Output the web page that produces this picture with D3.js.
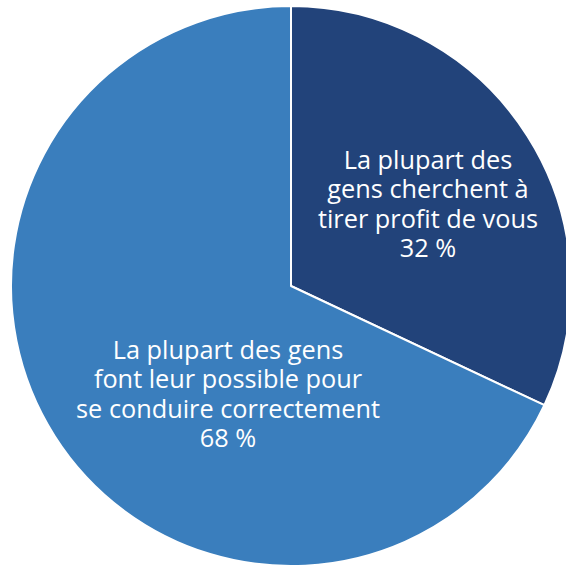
<!DOCTYPE html>
<html><head><meta charset="utf-8">
<script src="https://cdn.jsdelivr.net/npm/d3@7"></script>
<style>html,body{margin:0;padding:0;background:#fff;overflow:hidden}</style>
</head><body>
<svg id="c" width="566" height="566"></svg>
<script>
const categories = ["La plupart des gens cherchent à tirer profit de vous", "La plupart des gens font leur possible pour se conduire correctement"];
const values = [32, 68];
const labelLines = [
  ["La plupart des", "gens cherchent à", "tirer profit de vous", "32 %"],
  ["La plupart des gens", "font leur possible pour", "se conduire correctement", "68 %"]
];
const colors = ["#22437a", "#3a7ebd"];

const svg = d3.select("#c");
const cx = 291, cy = 286, R = 280;
const g = svg.append("g").attr("transform", `translate(${cx},${cy})`);
const pie = d3.pie().sort(null).value(d => d)(values);
const arc = d3.arc().innerRadius(0).outerRadius(R);
g.selectAll("path").data(pie).join("path")
  .attr("d", arc)
  .attr("fill", (d, i) => colors[i])
  .attr("stroke", "#fff").attr("stroke-width", 2).attr("stroke-linejoin", "round");

// label anchor points (relative to centre)
const labelPos = [[137, -82], [-63, 108]];
const lh = 29.3;
labelLines.forEach((lines, i) => {
  const t = g.append("text")
    .attr("text-anchor", "middle")
    .attr("fill", "#fff")
    .style("font-family", "'Open Sans', sans-serif")
    .style("font-size", "25.3px");
  lines.forEach((ln, j) => {
    t.append("tspan").attr("x", labelPos[i][0])
      .attr("y", labelPos[i][1] + (j - (lines.length - 1) / 2) * lh)
      .attr("dy", "0.35em").text(ln);
  });
});
</script>
</body></html>
